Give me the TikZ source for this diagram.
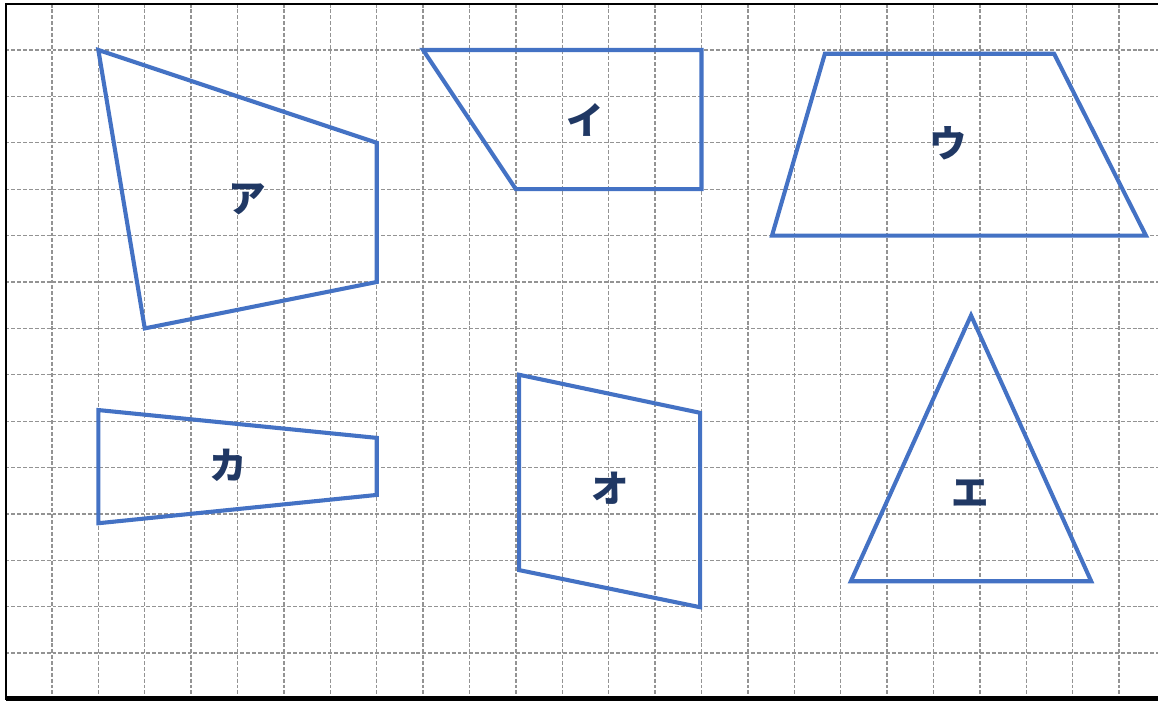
\documentclass[tikz,border=0pt]{standalone}
\usepackage{fontspec}
\newfontfamily\jpfont{Noto Sans CJK JP}
\usepackage{tikz}
\definecolor{shapeblue}{HTML}{4472C4}
\definecolor{labelnavy}{HTML}{203864}

\begin{document}
\begin{tikzpicture}[y=-1cm,
	gridline/.style={draw=gray!85, line width=0.8pt, dash pattern=on 2.4pt off 1.2pt},
	figline/.style={draw=shapeblue, line width=2.5pt, line join=miter},
	figlabel/.style={text=labelnavy, font=\jpfont\bfseries\fontsize{23}{26}\selectfont}]
			\useasboundingbox (-0.12,-0.078) rectangle (24.84,15.03);
			% grid
			\foreach \gx in {1,...,24}
				\draw [gridline] (\gx,0) -- (\gx,15);
			\foreach \gy in {1,...,14}
				\draw [gridline] (0,\gy) -- (24.84,\gy);
			\draw [line width=1.2pt] (24.84,0) -- (0,0) -- (0,15);
			\draw [line width=3pt] (0,14.97) -- (24.84,14.97);
			% shapes
			\draw [figline] (2,1) -- (8,3) -- (8,6) -- (3,7) -- cycle;
			\draw [figline] (9,1) -- (15,1) -- (15,4) -- (11,4) -- cycle;
			\draw [figline] (17.66,1.08) -- (22.6,1.08) -- (24.58,5) -- (16.52,5) -- cycle;
			\draw [figline] (20.81,6.72) -- (23.4,12.45) -- (18.22,12.45) -- cycle;
			\draw [figline] (11.07,8) -- (14.97,8.82) -- (14.97,13.01) -- (11.07,12.21) -- cycle;
			\draw [figline] (2,8.76) -- (8,9.36) -- (8,10.59) -- (2,11.2) -- cycle;
			% labels
			\node [figlabel] (a) at (5.22,4.23) {ア};
			\node [figlabel] (i) at (12.49,2.51) {イ};
			\node [figlabel] (u) at (20.31,3.0) {ウ};
			\node [figlabel] (e) at (20.79,10.55) {エ};
			\node [figlabel] (o) at (13.03,10.44) {オ};
			\node [figlabel] (ka) at (4.8,9.95) {カ};
		\end{tikzpicture}
\end{document}
